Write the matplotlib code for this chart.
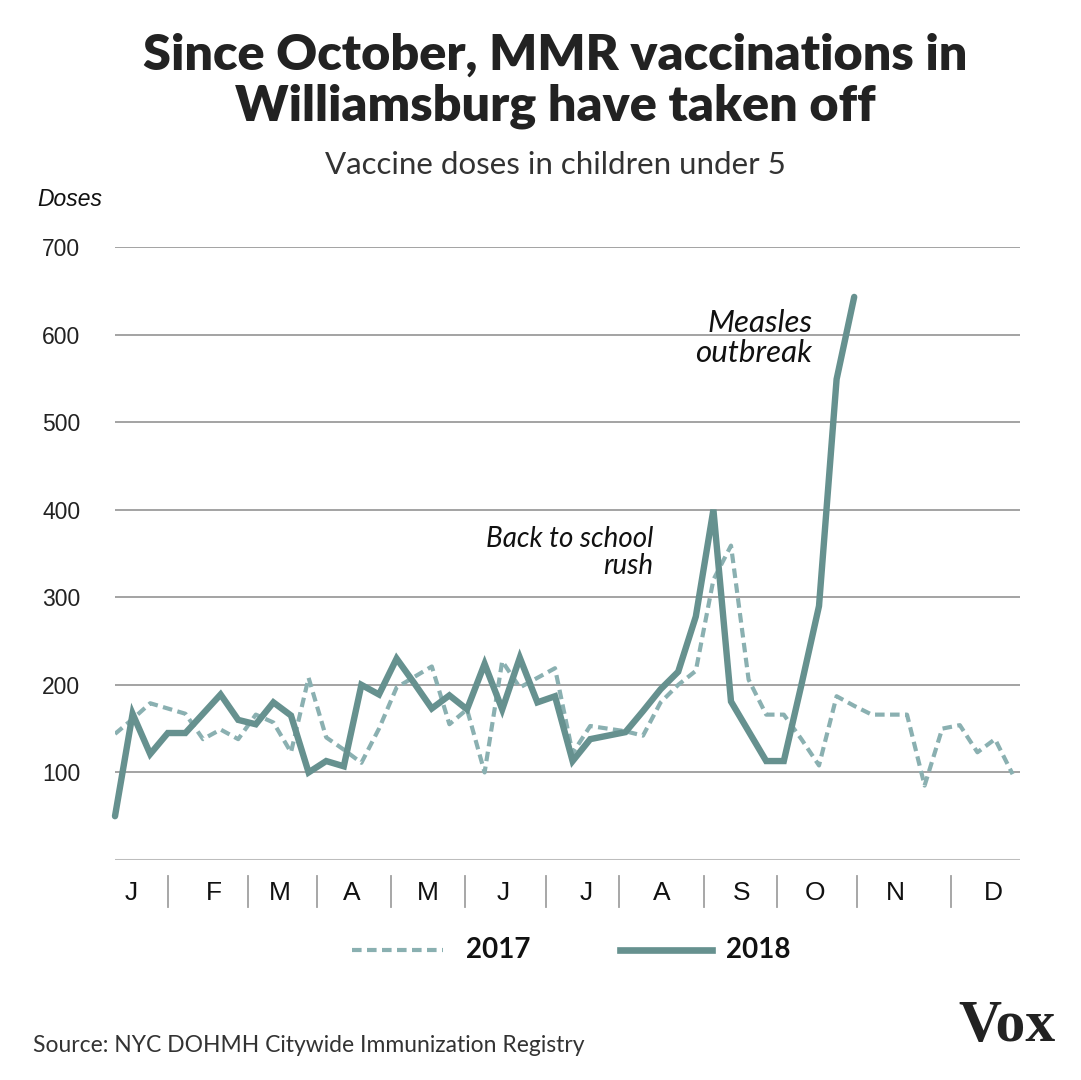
import matplotlib
matplotlib.use("Agg")
import matplotlib.pyplot as plt
from matplotlib.lines import Line2D

# ---- data ----
weeks_2017 = list(range(52))
doses_2017 = [144, 161, 179, 173, 167, 138, 149, 138, 166, 157,
              123, 208, 140, 126, 111, 150, 197, 209, 221, 155,
              172, 100, 227, 197, 208, 219, 122, 153, 150, 147,
              142, 180, 200, 216, 320, 359, 206, 166, 166, 138,
              108, 187, 176, 166, 166, 166, 85, 150, 154, 123,
              138, 98]
weeks_2018 = list(range(43))
doses_2018 = [50, 167, 121, 145, 145, 167, 189, 160, 155, 180,
              165, 100, 113, 107, 200, 189, 230, 202, 173, 188,
              172, 224, 172, 231, 180, 187, 113, 138, 142, 146,
              170, 195, 215, 278, 400, 181, 147, 113, 113, 200,
              290, 549, 643]
y_ticks = [100, 200, 300, 400, 500, 600, 700]
month_labels = ["J", "F", "M", "A", "M", "J", "J", "A", "S", "O", "N", "D"]
month_label_pos = [0.91, 5.63, 9.38, 13.47, 17.78, 22.05, 26.76, 31.08, 35.63, 39.77, 44.32, 49.89]
month_edges = [3.01, 7.56, 11.48, 15.68, 19.89, 24.49, 28.64, 33.47, 37.61, 42.16, 47.5]

C18 = "#66918f"
C17 = "#8ab0b1"
W, H = 1081, 1080

fig = plt.figure(figsize=(W / 100, H / 100), dpi=100)
fig.patch.set_facecolor("white")

def fx(px):
    return px / W

def fy(py):
    return 1 - py / H

ax = fig.add_axes([fx(115), fy(860), (1020 - 115) / W, (860 - 247) / H])
ax.set_xlim(0, 51.42)
ax.set_ylim(0, 700)
for s in ax.spines.values():
    s.set_visible(False)
ax.set_xticks([])
ax.set_yticks(y_ticks)
ax.set_yticklabels([str(v) for v in y_ticks], fontsize=16.5, family="Liberation Sans", color="#222222")
ax.tick_params(axis="y", length=0, pad=25)
for v in y_ticks:
    ax.axhline(v, color="#8a8a8a", lw=1.1, zorder=1)
ax.axhline(0, color="#bdbdbd", lw=2.2, zorder=1)

ax.plot(weeks_2017, doses_2017, color=C17, lw=3.0, dashes=(2.3, 1.3), zorder=3,
        solid_joinstyle="miter")
ax.plot(weeks_2018, doses_2018, color=C18, lw=4.6, zorder=4, solid_capstyle="round",
        solid_joinstyle="miter", clip_on=False)

# month labels and separators
for lab, p in zip(month_labels, month_label_pos):
    ax.text(p, -38, lab, ha="center", va="center", fontsize=19, family="Liberation Sans",
            color="#111111")
for e in month_edges:
    ax.plot([e, e], [-18, -54], color="#a0a0a0", lw=1.3, clip_on=False)

# annotations
def dx(px):
    return (px - 115) / 17.6

def dy(py):
    return (860 - py) / 0.877

ax.text(dx(812), dy(322), "Measles", ha="right", va="center",
        fontsize=22.5, style="italic", family="Lato", color="#111111")
ax.text(dx(812), dy(352), "outbreak", ha="right", va="center",
        fontsize=22.5, style="italic", family="Lato", color="#111111")
ax.text(dx(653), dy(539), "Back to school", ha="right", va="center",
        fontsize=20, style="italic", family="Lato", color="#111111")
ax.text(dx(653), dy(566), "rush", ha="right", va="center",
        fontsize=20, style="italic", family="Lato", color="#111111")

# titles
fig.text(fx(555), fy(55), "Since October, MMR vaccinations in", ha="center", va="center",
         fontsize=36.3, fontweight="heavy", family="Lato", color="#222222")
fig.text(fx(555), fy(106), "Williamsburg have taken off", ha="center", va="center",
         fontsize=36.3, fontweight="heavy", family="Lato", color="#222222")
fig.text(fx(555), fy(165), "Vaccine doses in children under 5", ha="center", va="center",
         fontsize=22.5, family="Lato", color="#333333")
fig.text(fx(37), fy(199), "Doses", ha="left", va="center", fontsize=16.5, style="italic",
         family="Liberation Sans", color="#111111")

# legend
fig.add_artist(Line2D([fx(352), fx(443)], [fy(950), fy(950)], color=C17, lw=3.0,
                      dashes=(2.3, 1.3)))
fig.text(fx(466), fy(950), "2017", ha="left", va="center", fontsize=20, fontweight="bold",
         family="Lato", color="#111111")
fig.add_artist(Line2D([fx(620), fx(712)], [fy(950), fy(950)], color=C18, lw=4.8))
fig.text(fx(726), fy(950), "2018", ha="left", va="center", fontsize=20, fontweight="bold",
         family="Lato", color="#111111")

# source and logo
fig.text(fx(33), fy(1046), "Source: NYC DOHMH Citywide Immunization Registry", ha="left",
         va="center", fontsize=16.5, family="Lato", color="#333333")
fig.text(fx(1056), fy(1027), "Vox", ha="right", va="center", fontsize=43, fontweight="bold",
         family="Liberation Serif", color="#222222")

fig.savefig("out.png", dpi=100, facecolor="white")
